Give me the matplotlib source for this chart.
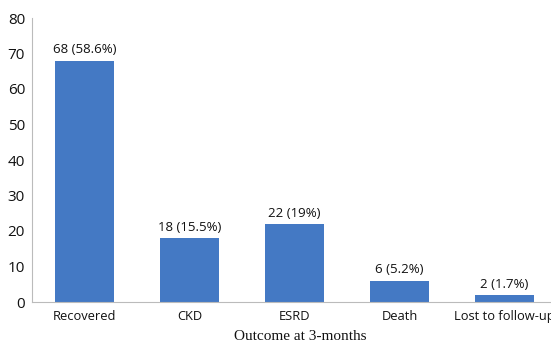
import matplotlib
matplotlib.use("Agg")
import matplotlib.pyplot as plt

categories = ["Recovered", "CKD", "ESRD", "Death", "Lost to follow-up"]
counts = [68, 18, 22, 6, 2]
labels = ["68 (58.6%)", "18 (15.5%)", "22 (19%)", "6 (5.2%)", "2 (1.7%)"]
yticks = [0, 10, 20, 30, 40, 50, 60, 70, 80]

fig = plt.figure(figsize=(5.51, 3.43), dpi=100)
ax = fig.add_axes([32/551, 41/343, 525/551, 284/343])
x = list(range(len(categories)))
bars = ax.bar(x, counts, width=0.57, color="#4479c4")
for b, t in zip(bars, labels):
    ax.text(b.get_x() + b.get_width()/2, b.get_height() + 1.2, t,
            ha="center", va="bottom", fontsize=9.5, family="Open Sans", color="#111111")
ax.set_xlim(-0.5, 4.5)
ax.set_ylim(0, 80)
ax.set_yticks(yticks)
ax.set_xticks(x)
ax.set_xticklabels(categories, family="Open Sans", fontsize=9.3, color="#111111")
ax.set_yticklabels([str(v) for v in yticks], family="Open Sans", fontsize=11, color="#111111")
ax.tick_params(axis="x", length=0, pad=6)
ax.tick_params(axis="y", length=0, pad=5)
for s in ["top", "right"]:
    ax.spines[s].set_visible(False)
for s in ["left", "bottom"]:
    ax.spines[s].set_color("#bbbbbb")
    ax.spines[s].set_linewidth(0.8)
ax.set_xlabel("Outcome at 3-months", family="Liberation Serif", fontsize=11, color="#111111", labelpad=4)
ax.xaxis.set_label_coords((300 - 32) / 525, -0.1, transform=ax.transAxes)
fig.savefig("out.png", dpi=100)
